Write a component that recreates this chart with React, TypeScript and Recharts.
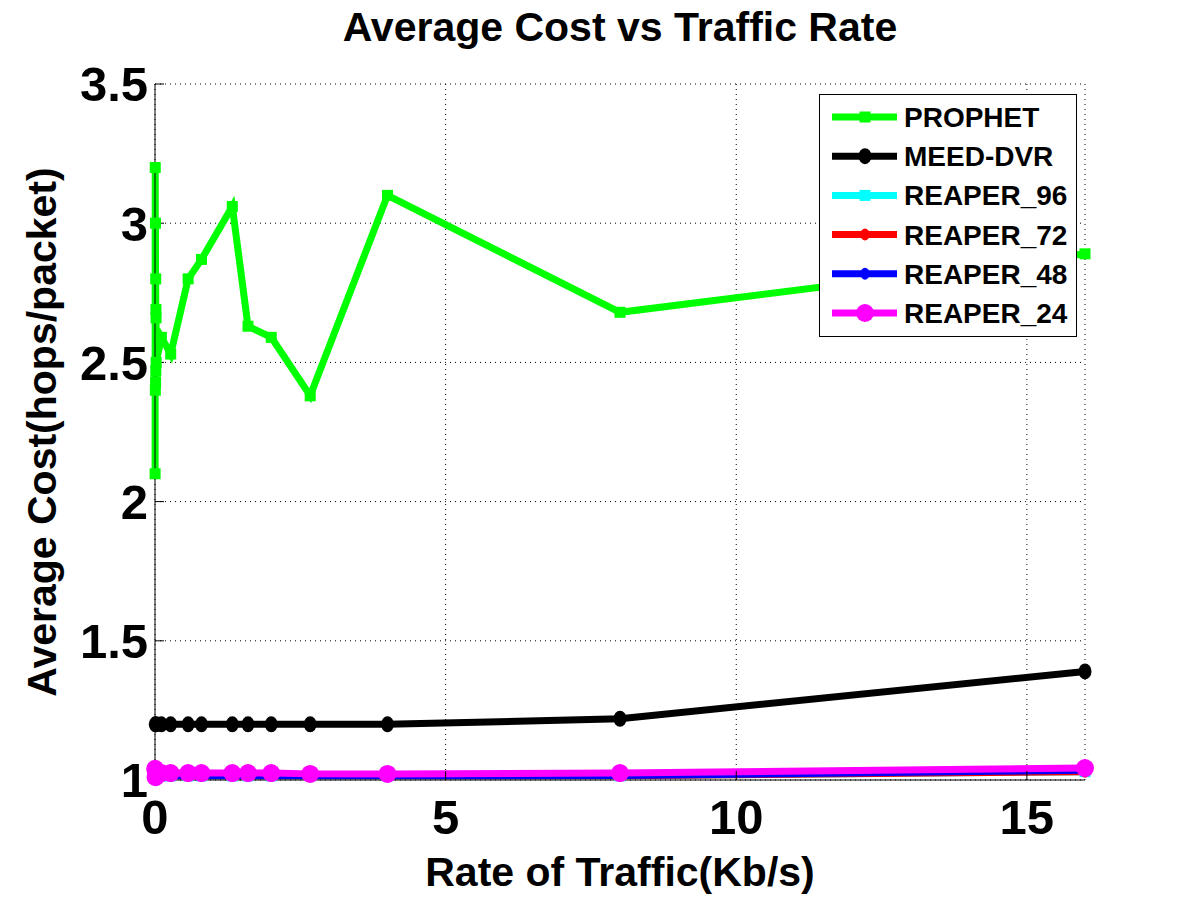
import { LineChart, Line, XAxis, YAxis, CartesianGrid } from 'recharts';

const FONT = '"Liberation Sans", Arial, Helvetica, sans-serif';

// x values (Kb/s)
const prophetX = [0.002, 0.004, 0.006, 0.008, 0.01, 0.012, 0.014, 0.016, 0.018, 0.02, 0.11, 0.27, 0.57, 0.8, 1.33, 1.6, 2, 2.67, 4, 8, 16];
const prophetY = [2.10, 3.20, 2.40, 3.00, 2.43, 2.80, 2.47, 2.69, 2.66, 2.50, 2.59, 2.53, 2.80, 2.87, 3.06, 2.63, 2.59, 2.38, 3.10, 2.68, 2.89];

const meedX = [0.005, 0.02, 0.11, 0.27, 0.57, 0.8, 1.33, 1.6, 2, 2.67, 4, 8, 16];
const meedY = [1.20, 1.20, 1.20, 1.20, 1.20, 1.20, 1.20, 1.20, 1.20, 1.20, 1.20, 1.22, 1.39];

const reaperX = [0.002, 0.01, 0.02, 0.11, 0.27, 0.57, 0.8, 1.33, 1.6, 2, 2.67, 4, 8, 16];
const reaper96Y = [1.02, 1.01, 1.02, 1.015, 1.015, 1.015, 1.015, 1.015, 1.015, 1.015, 1.015, 1.015, 1.015, 1.03];
const reaper72Y = [1.02, 1.01, 1.02, 1.015, 1.015, 1.015, 1.015, 1.015, 1.015, 1.015, 1.015, 1.015, 1.015, 1.03];
const reaper48Y = [1.02, 1.01, 1.02, 1.015, 1.015, 1.015, 1.015, 1.015, 1.015, 1.015, 1.015, 1.015, 1.016, 1.035];
const reaper24Y = [1.04, 1.01, 1.03, 1.025, 1.025, 1.025, 1.025, 1.025, 1.025, 1.025, 1.022, 1.022, 1.025, 1.043];

const xTicks = [0, 5, 10, 15];
const yTicks = [1, 1.5, 2, 2.5, 3, 3.5];

const toPoints = (xs: number[], ys: number[]) => xs.map((x, i) => ({ x, y: ys[i] }));

type Marker = 'square' | 'diamond' | 'circle' | 'small';

const SERIES = [
  { name: 'PROPHET', color: '#00ff00', marker: 'square' as Marker, data: toPoints(prophetX, prophetY) },
  { name: 'MEED-DVR', color: '#000000', marker: 'diamond' as Marker, data: toPoints(meedX, meedY) },
  { name: 'REAPER_96', color: '#00ffff', marker: 'square' as Marker, data: toPoints(reaperX, reaper96Y) },
  { name: 'REAPER_72', color: '#ff0000', marker: 'small' as Marker, data: toPoints(reaperX, reaper72Y) },
  { name: 'REAPER_48', color: '#0000ff', marker: 'small' as Marker, data: toPoints(reaperX, reaper48Y) },
  { name: 'REAPER_24', color: '#ff00ff', marker: 'circle' as Marker, data: toPoints(reaperX, reaper24Y) },
];

function drawMarker(kind: Marker, color: string, cx: number, cy: number, key?: string) {
  if (kind === 'square') return <rect key={key} x={cx - 5.5} y={cy - 5.5} width={11} height={11} fill={color} />;
  if (kind === 'diamond') return <ellipse key={key} cx={cx} cy={cy} rx={6.5} ry={8} fill={color} />;
  if (kind === 'circle') return <circle key={key} cx={cx} cy={cy} r={9} fill={color} />;
  return <ellipse key={key} cx={cx} cy={cy} rx={4.5} ry={6} fill={color} />;
}

// legend drawn on top of the plot (opaque, like the matlab one)
function LegendBox() {
  return (
    <svg width={258} height={243} style={{ position: 'absolute', left: 819, top: 94, zIndex: 3 }}>
      <rect x={0.5} y={0.5} width={257} height={242} fill="#fff" stroke="#000" strokeWidth={1} />
      {SERIES.map((s, i) => {
        const cy = 23 + i * 39.2;
        return (
          <g key={s.name}>
            <line x1={13} x2={78} y1={cy} y2={cy} stroke={s.color} strokeWidth={7} />
            {drawMarker(s.marker, s.color, 46, cy)}
            <text x={85} y={cy + 10} fontFamily={FONT} fontWeight="bold" fontSize={28} fill="#000">{s.name}</text>
          </g>
        );
      })}
    </svg>
  );
}

export default function App() {
  return (
    <div style={{ position: 'absolute', left: 0, top: 0, width: 1200, height: 900, background: '#fff' }}>
      <div style={{ position: 'absolute', top: 4, left: 0, width: 1240, textAlign: 'center', fontFamily: FONT, fontWeight: 'bold', fontSize: 41, color: '#000', zIndex: 2 }}>
        Average Cost vs Traffic Rate
      </div>
      <LineChart width={1200} height={900} margin={{ top: 84, right: 115, bottom: 20, left: 15 }}>
        <CartesianGrid stroke="#000" strokeDasharray="1 4" strokeWidth={1} />
        <XAxis
          xAxisId={0}
          dataKey="x"
          type="number"
          domain={[0, 16]}
          ticks={xTicks}
          height={100}
          stroke="#000"
          tickSize={-9}
          tickMargin={28}
          tick={{ fill: '#000', fontSize: 49, fontWeight: 'bold', fontFamily: FONT }}
          label={{
            content: ({ viewBox }: any) => (
              <text x={viewBox.x + viewBox.width / 2} y={viewBox.y + 106} textAnchor="middle" fontFamily={FONT} fontWeight="bold" fontSize={41} fill="#000">
                Rate of Traffic(Kb/s)
              </text>
            ),
          }}
        />
        <XAxis xAxisId="top" dataKey="x" type="number" orientation="top" domain={[0, 16]} ticks={xTicks} height={0} stroke="#000" tickSize={-9} tick={false} />
        <YAxis
          yAxisId={0}
          type="number"
          domain={[1, 3.5]}
          ticks={yTicks}
          width={140}
          stroke="#000"
          tickSize={-9}
          tickMargin={16}
          tick={{ fill: '#000', fontSize: 49, fontWeight: 'bold', fontFamily: FONT }}
          label={{
            content: ({ viewBox }: any) => {
              const cx = 42;
              const cy = viewBox.y + viewBox.height / 2;
              return (
                <text x={cx} y={cy} transform={`rotate(-90, ${cx}, ${cy})`} textAnchor="middle" dominantBaseline="central" fontFamily={FONT} fontWeight="bold" fontSize={41} fill="#000">
                  Average Cost(hops/packet)
                </text>
              );
            },
          }}
        />
        <YAxis yAxisId="right" type="number" orientation="right" domain={[1, 3.5]} ticks={yTicks} width={0} stroke="#000" tickSize={-9} tick={false} />
        {SERIES.map((s) => (
          <Line
            key={s.name}
            xAxisId={0}
            yAxisId={0}
            data={s.data}
            dataKey="y"
            name={s.name}
            type="linear"
            stroke={s.color}
            strokeWidth={7}
            isAnimationActive={false}
            dot={(p: any) => drawMarker(s.marker, s.color, p.cx, p.cy, `${s.name}-${p.index}`)}
            activeDot={false}
          />
        ))}
      </LineChart>
      <LegendBox />
    </div>
  );
}
